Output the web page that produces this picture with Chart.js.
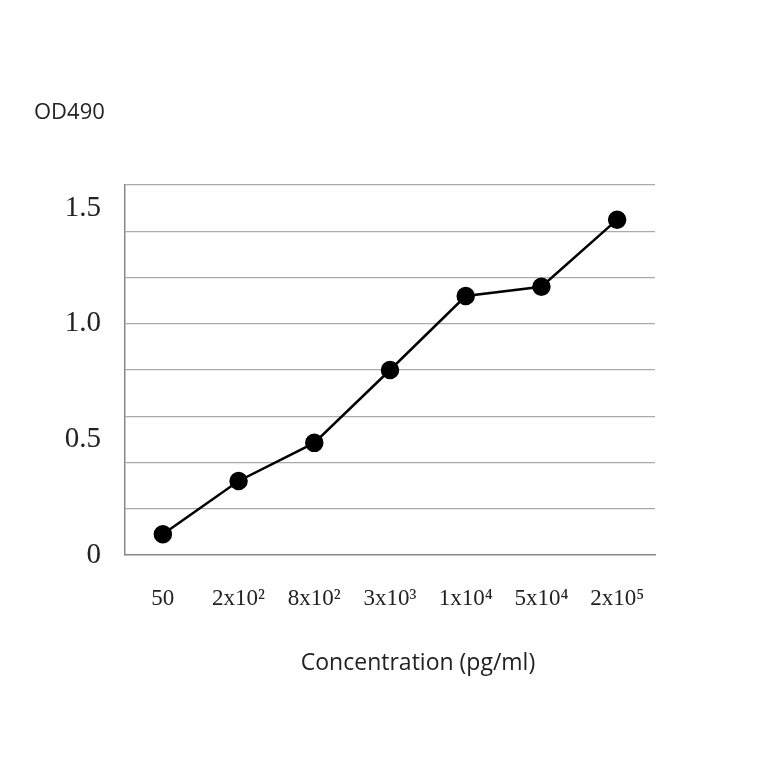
<!DOCTYPE html>
<html><head><script src="https://cdn.jsdelivr.net/npm/chart.js"></script>
<style>body{margin:0;background:#fff}#w{width:764px;height:764px}</style></head>
<body><div id="w"><canvas id="c"></canvas></div>
<script>
const categories=['50','2x10²','8x10²','3x10³','1x10⁴','5x10⁴','2x10⁵'];
const od490=[0.09,0.32,0.485,0.80,1.12,1.16,1.45];
const yTickLabels=[0,0.5,1.0,1.5];
const near=(v,m)=>Math.abs(v/m-Math.round(v/m))<1e-6;
const titlePlugin={id:'t',afterDraw(ch){const c=ch.ctx;c.save();c.font='22px "Open Sans"';c.fillStyle='#222';c.textBaseline='middle';c.fillText('OD490',34,113);c.textAlign='center';c.font='23px "Open Sans"';c.fillText('Concentration (pg/ml)',418,663);c.restore();}};
new Chart(document.getElementById('c'),{type:'line',
data:{labels:categories,datasets:[{data:od490,borderColor:'#000',backgroundColor:'#000',borderWidth:2.5,pointRadius:8,pointHoverRadius:8,tension:0}]},
options:{responsive:true,maintainAspectRatio:false,animation:false,
layout:{padding:{left:0,right:109,top:185,bottom:0}},
plugins:{legend:{display:false},tooltip:{enabled:false}},
scales:{
x:{offset:true,grid:{display:false},border:{color:'#888',width:1.5},
ticks:{color:'#222',font:{family:'Liberation Serif',size:23},padding:22,maxRotation:0,autoSkip:false},
afterFit(s){s.height=209;}},
y:{min:0,max:1.6,afterFit(s){s.width=125;},
afterBuildTicks(s){const t=[];for(let i=0;i<=16;i++)t.push({value:i/10});s.ticks=t;},
grid:{color:(c)=>near(c.tick.value,0.2)&&c.tick.value>0?'#aaa':'rgba(0,0,0,0)',drawTicks:false,lineWidth:1.2},
border:{color:'#888',width:1.5},
ticks:{color:'#222',autoSkip:false,font:{family:'Liberation Serif',size:29},padding:24,
callback:(v)=>{const r=yTickLabels.find(x=>Math.abs(x-v)<1e-6);return r===undefined?'':(r===0?'0':r.toFixed(1));}}}
}},plugins:[titlePlugin]});
</script></body></html>
